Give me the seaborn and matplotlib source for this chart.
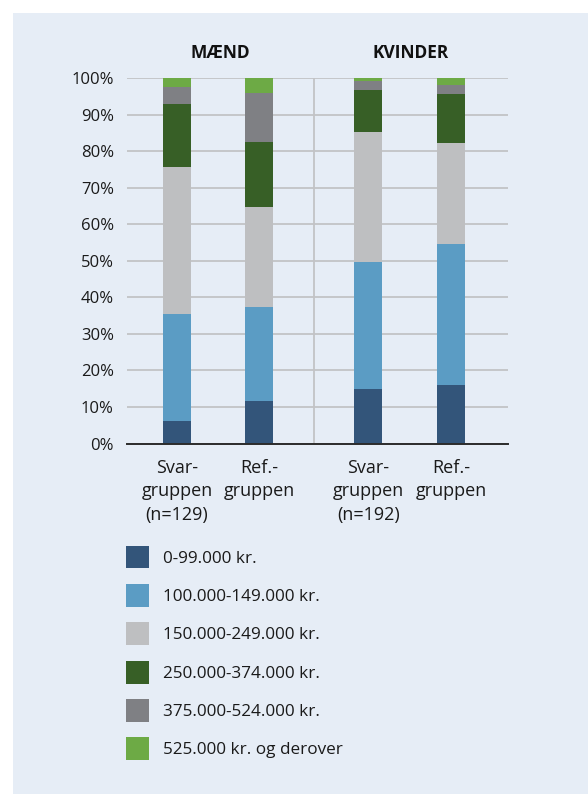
import numpy as np
import pandas as pd
import seaborn as sns
import matplotlib
matplotlib.use("Agg")
import matplotlib.pyplot as plt
from matplotlib.patches import Patch, Rectangle

# ---- data ----
bar_labels = ["Svar-\ngruppen\n(n=129)", "Ref.-\ngruppen",
              "Svar-\ngruppen\n(n=192)", "Ref.-\ngruppen"]
panel_titles = ["MÆND", "KVINDER"]
income_groups = ["0-99.000 kr.", "100.000-149.000 kr.", "150.000-249.000 kr.",
                 "250.000-374.000 kr.", "375.000-524.000 kr.", "525.000 kr. og derover"]
v_0_99 = [6.2, 11.6, 14.9, 16.0]
v_100_149 = [29.2, 25.7, 34.7, 38.6]
v_150_249 = [40.2, 27.4, 35.6, 27.6]
v_250_374 = [17.3, 17.8, 11.5, 13.4]
v_375_524 = [4.6, 13.4, 2.5, 2.5]
v_525_plus = [2.5, 4.1, 0.8, 1.9]
y_ticks = [0, 10, 20, 30, 40, 50, 60, 70, 80, 90, 100]

# ---- layout / style ----
positions = [0.0, 1.0, 2.33, 3.34]
colors = ["#33557A", "#5B9CC4", "#BEBFC1", "#375F26", "#7F8084", "#6DAA45"]
bg = "#E6EDF6"
grid_c = "#C2C3C6"
W, H = 588, 794

sns.set_style("white")
plt.rcParams["font.family"] = ["Open Sans", "DejaVu Sans"]

fig = plt.figure(figsize=(W / 100, H / 100), dpi=100)
fig.patch.set_facecolor("white")
fig.patches.append(Rectangle((13 / W, 0), 1, 1 - 13 / H, transform=fig.transFigure,
                             facecolor=bg, edgecolor="none", zorder=-10))

ax = fig.add_axes([127 / W, 1 - 443.5 / H, (508 - 127) / W, (443.5 - 78) / H])
ax.set_facecolor("none")

series = [v_0_99, v_100_149, v_150_249, v_250_374, v_375_524, v_525_plus]
cum = np.cumsum(np.array(series), axis=0)
for k in range(len(series) - 1, -1, -1):
    df = pd.DataFrame({"x": positions, "y": cum[k]})
    sns.barplot(data=df, x="x", y="y", native_scale=True, orient="x", width=0.345,
                color=colors[k], saturation=1, edgecolor="none", linewidth=0, ax=ax,
                zorder=3)

ax.set_xlim(-0.61, 4.035)
ax.set_ylim(0, 100)
ax.set_yticks(y_ticks, [f"{t}%" for t in y_ticks])
ax.set_xticks(positions, bar_labels)
ax.set_xlabel("")
ax.set_ylabel("")
ax.tick_params(axis="y", length=0, pad=9.5, labelsize=12, labelcolor="#1a1a1a")
ax.tick_params(axis="x", length=0, pad=11, labelsize=13, labelcolor="#1a1a1a")
for lab in ax.get_xticklabels():
    lab.set_linespacing(1.4)
    lab.set_multialignment("center")

ax.yaxis.grid(True, color=grid_c, lw=1.3, zorder=0)
ax.xaxis.grid(False)
ax.set_axisbelow(True)
ax.axvline(1.67, color=grid_c, lw=1.3, zorder=1)
for s in ["top", "right", "left"]:
    ax.spines[s].set_visible(False)
ax.spines["bottom"].set_color("#2b2b2b")
ax.spines["bottom"].set_linewidth(1.4)
ax.spines["bottom"].set_zorder(5)

# panel titles
fig.text(220.5 / W, 1 - 53 / H, panel_titles[0], ha="center", va="center",
         fontsize=12.5, fontweight="bold", color="#111111")
fig.text(411 / W, 1 - 53 / H, panel_titles[1], ha="center", va="center",
         fontsize=12.5, fontweight="bold", color="#111111")

# legend
handles = [Patch(facecolor=c, edgecolor="none") for c in colors]
fs = 12.3
leg = fig.legend(handles, income_groups, loc="upper left",
                 bbox_to_anchor=(126 / W, 1 - 545.5 / H), bbox_transform=fig.transFigure,
                 frameon=False, fontsize=fs, borderaxespad=0, borderpad=0,
                 handlelength=1.346, handleheight=1.694, handletextpad=0.82,
                 labelspacing=0.9)
for t in leg.get_texts():
    t.set_color("#1a1a1a")

fig.savefig("out.png", dpi=100, facecolor=fig.get_facecolor())
